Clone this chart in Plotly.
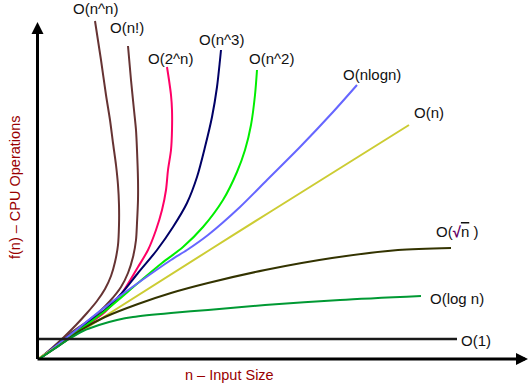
import plotly.graph_objects as go

# Chart units: horizontal = input size n, vertical = CPU operations f(n) (arbitrary units)
labels = ["O(n^n)", "O(n!)", "O(2^n)", "O(n^3)", "O(n^2)", "O(nlogn)", "O(n)",
          "O(<span style='color:#660066'><b>√</b></span><span style='text-decoration:overline;text-decoration-color:#660066'>n</span> )",
          "O(log n)", "O(1)"]
colors = ["#663333", "#663333", "#ff0066", "#000066", "#00ee00", "#6666ff", "#cccc33",
          "#333300", "#009933", "#1a1a1a"]

nn_x = [0, 13, 25, 37, 48, 58, 66, 72, 76, 79, 80, 80, 79, 77, 74, 71, 67, 62, 56]
nn_y = [0, 11, 22, 34, 46, 58, 70, 83, 97, 114, 134, 154, 174, 194, 216, 239, 264, 299, 338]

fact_x = [0, 16, 32, 46, 59, 71, 82, 89, 94, 97, 98, 99, 99, 98, 97, 95, 92, 89]
fact_y = [0, 12, 26, 36, 46, 58, 72, 86, 102, 119, 136, 159, 179, 209, 229, 249, 279, 313]

exp_x = [0, 21, 41, 66, 83, 99, 109, 117, 123, 127, 129, 132, 133, 133, 132, 130, 128]
exp_y = [0, 15, 29, 47, 66, 92, 109, 129, 149, 169, 189, 209, 229, 249, 264, 279, 292]

cube_x = [0, 31, 66, 83, 99, 118, 134, 148, 158, 166, 173, 178, 181, 182]
cube_y = [0, 24, 49, 66, 86, 109, 132, 156, 182, 212, 242, 272, 299, 309]

sq_x = [0, 31, 66, 99, 123, 144, 164, 184, 198, 206, 212, 216, 218]
sq_y = [0, 22, 48, 76, 96, 112, 132, 159, 187, 209, 234, 264, 289]

nlog_x = [0, 31, 66, 99, 132, 148, 169, 201, 228, 261, 294, 318]
nlog_y = [0, 24, 52, 76, 99, 109, 124, 152, 179, 212, 247, 274]

lin_x = [0, 169, 231, 370]
lin_y = [1, 108, 147, 234]

sqrt_x = [0, 21, 42, 66, 99, 132, 169, 226, 293, 359, 412]
sqrt_y = [0, 14, 29, 42, 55, 66, 76, 89, 101, 109, 111]

log_x = [0, 15, 30, 44, 60, 78, 94, 132, 169, 226, 301, 382]
log_y = [0, 10, 20, 28, 34, 39, 42, 46, 49, 54, 59, 63]

const_x = [-1, 418]
const_y = [20, 20]

series_x = [nn_x, fact_x, exp_x, cube_x, sq_x, nlog_x, lin_x, sqrt_x, log_x, const_x]
series_y = [nn_y, fact_y, exp_y, cube_y, sq_y, nlog_y, lin_y, sqrt_y, log_y, const_y]
widths = [2, 2, 2, 2, 2, 2, 2, 2, 2, 2.5]
# label offset from the end of each curve, in pixels (right, up)
label_dx = [0, -1, 3, 0, 14, 15, 20, 6, 36, 19]
label_dy = [13, 19, 9, 11, 12, 11, 13, 17, -2, -1]

x_title = "n – Input Size"
y_title = "f(n) – CPU Operations"
axis_end_x = 489
axis_end_y = 337

FONT = "Liberation Sans, Arial, sans-serif"

fig = go.Figure()
for i in range(len(labels)):
    fig.add_trace(go.Scatter(
        x=series_x[i], y=series_y[i], mode="lines",
        line=dict(color=colors[i], width=widths[i],
                  shape="spline" if len(series_x[i]) > 2 else "linear", smoothing=0.8),
        hoverinfo="skip", showlegend=False))
    fig.add_annotation(x=series_x[i][-1], y=series_y[i][-1], text=labels[i], showarrow=False,
                       xshift=label_dx[i], yshift=label_dy[i],
                       font=dict(family=FONT, size=15, color="#111111"))

# axes with arrow heads
fig.add_annotation(x=axis_end_x, y=0, ax=-3, ay=0, axref="x", ayref="y", xref="x", yref="y",
                   text="", showarrow=True, arrowhead=2, arrowwidth=3, arrowsize=0.8,
                   arrowcolor="black", standoff=0)
fig.add_annotation(x=-1.5, y=axis_end_y, ax=-1.5, ay=-1.5, axref="x", ayref="y", xref="x", yref="y",
                   text="", showarrow=True, arrowhead=2, arrowwidth=3, arrowsize=0.8,
                   arrowcolor="black", standoff=0)

fig.add_annotation(x=190, y=-16, text=x_title, showarrow=False,
                   font=dict(family=FONT, size=14.5, color="#990000"))
fig.add_annotation(x=-24, y=171, text=y_title, showarrow=False, textangle=-90,
                   font=dict(family=FONT, size=14.5, color="#990000"))

fig.update_layout(
    width=530, height=383, margin=dict(l=0, r=0, t=0, b=0),
    paper_bgcolor="white", plot_bgcolor="white",
    xaxis=dict(range=[-39, 491], visible=False, fixedrange=True),
    yaxis=dict(range=[-24, 359], visible=False, fixedrange=True),
)
fig.write_html("out.html", config={"displayModeBar": False},
               post_script="document.body.style.margin='0';")
